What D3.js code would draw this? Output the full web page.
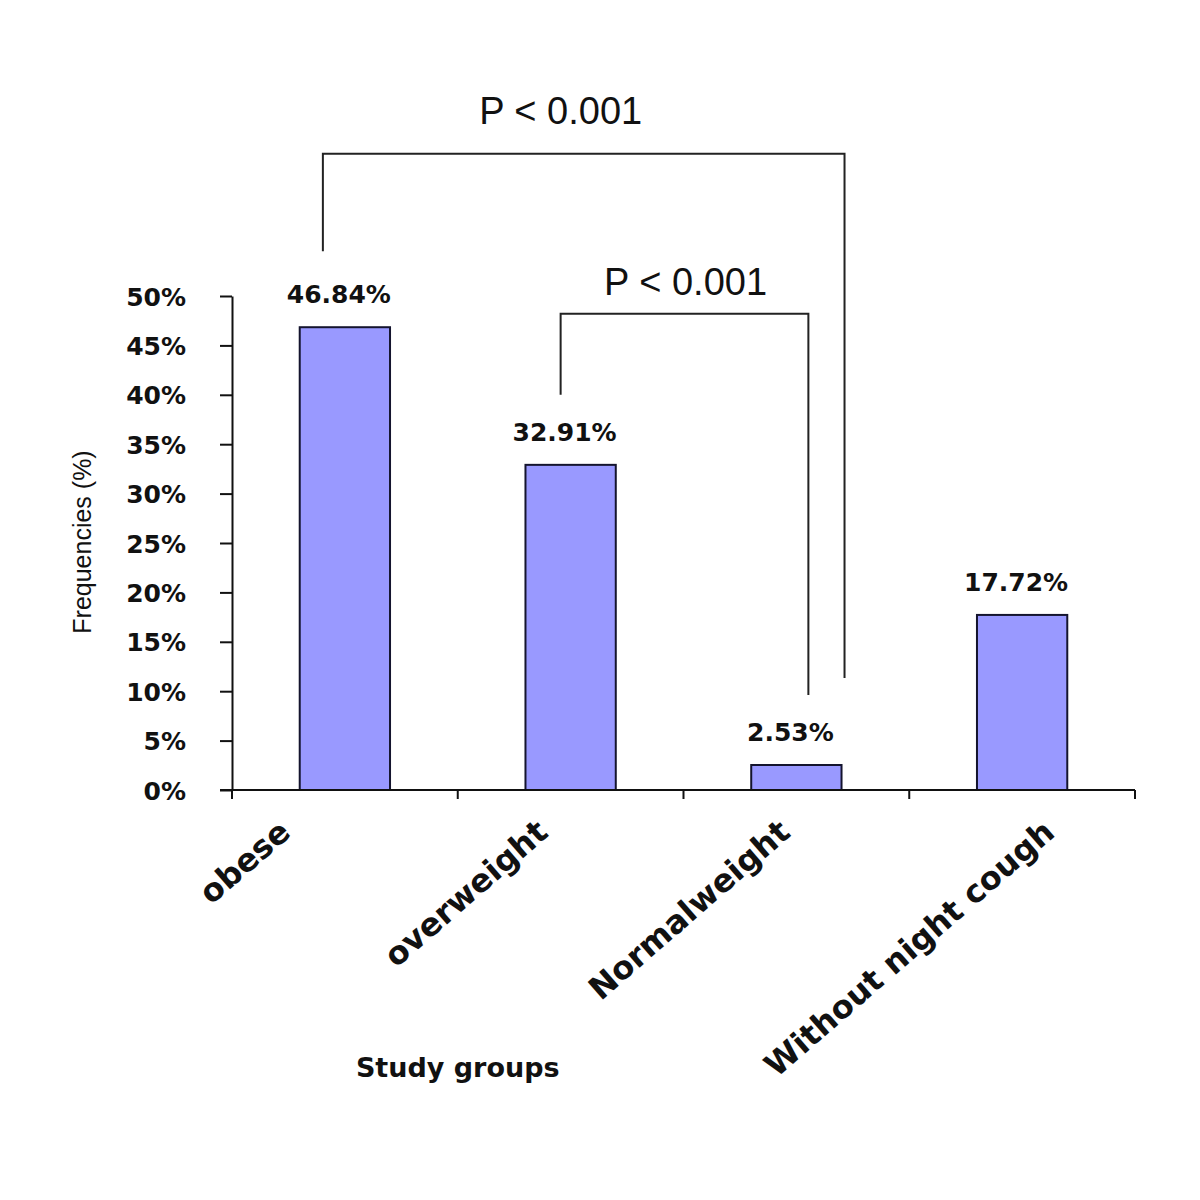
<!DOCTYPE html>
<html>
<head>
<meta charset="utf-8">
<script src="https://cdn.jsdelivr.net/npm/d3@7"></script>
<style>
  body { margin: 0; background: #fff; }
  svg { display: block; }
  .bold-text { font-family: "DejaVu Sans", sans-serif; font-weight: bold; fill: #111; }
  .plain-text { font-family: "Liberation Sans", Arial, sans-serif; fill: #111; }
</style>
</head>
<body>
<div id="chart"></div>
<script>
const categories = ["obese", "overweight", "Normalweight", "Without night cough"];
const frequencies = [46.84, 32.91, 2.53, 17.72];
const yTicks = [0, 5, 10, 15, 20, 25, 30, 35, 40, 45, 50];
const comparisons = [
  { from: "obese", to: "Normalweight", label: "P < 0.001", level: 64.4 },
  { from: "overweight", to: "Normalweight", label: "P < 0.001", level: 48.2 },
];

function renderChart() {
  const width = 1200;
  const height = 1200;
  const margin = { top: 296, right: 65, bottom: 410, left: 232 };
  const svg = d3.select("#chart").append("svg").attr("width", width).attr("height", height);

  const x = d3
    .scaleBand()
    .domain(categories)
    .range([margin.left, width - margin.right])
    .paddingInner(0.6)
    .paddingOuter(0.3);

  const y = d3
    .scaleLinear()
    .domain([0, 50])
    .range([height - margin.bottom, margin.top]);

  const step = x.step();
  const base = y(0);

  // bars
  svg
    .append("g")
    .selectAll("rect")
    .data(categories)
    .join("rect")
    .attr("x", (d) => x(d))
    .attr("y", (d, i) => y(frequencies[i]))
    .attr("width", x.bandwidth())
    .attr("height", (d, i) => base - y(frequencies[i]))
    .attr("fill", "#9999ff")
    .attr("stroke", "#14142e")
    .attr("stroke-width", 2);

  // y axis
  svg
    .append("g")
    .attr("transform", `translate(${margin.left}, 0)`)
    .call(d3.axisLeft(y).tickValues(yTicks).tickSize(12).tickSizeOuter(0).tickPadding(34).tickFormat((d) => `${d}%`))
    .call((g) => g.selectAll("line, path").attr("stroke", "#111").attr("stroke-width", 2))
    .call((g) =>
      g
        .selectAll("text")
        .attr("class", "bold-text")
        .attr("font-size", 25)
        .attr("dy", "0.36em")
    );

  // x axis with ticks at category boundaries
  const xAxis = svg.append("g");
  xAxis
    .append("line")
    .attr("x1", margin.left - 12)
    .attr("x2", width - margin.right)
    .attr("y1", base)
    .attr("y2", base)
    .attr("stroke", "#111")
    .attr("stroke-width", 2);
  xAxis
    .selectAll(".bound")
    .data(d3.range(categories.length + 1))
    .join("line")
    .attr("x1", (i) => margin.left + i * step)
    .attr("x2", (i) => margin.left + i * step)
    .attr("y1", base)
    .attr("y2", base + 9)
    .attr("stroke", "#111")
    .attr("stroke-width", 2);

  // rotated category labels (longer labels sit further right, like Excel does)
  const catLabels = svg
    .append("g")
    .selectAll("text")
    .data(categories)
    .join("text")
    .attr("class", "bold-text")
    .attr("font-size", 32)
    .attr("text-anchor", "end")
    .text((d) => d);
  catLabels.each(function (d) {
    const len = this.getComputedTextLength();
    const cx = x(d) + x.bandwidth() / 2 - 88 + 0.33 * len;
    d3.select(this).attr("transform", `translate(${cx}, ${base + 45}) rotate(-41)`);
  });

  // value labels
  svg
    .append("g")
    .selectAll("text")
    .data(categories)
    .join("text")
    .attr("class", "bold-text")
    .attr("font-size", 25)
    .attr("text-anchor", "middle")
    .attr("x", (d) => x(d) + x.bandwidth() / 2 - 6)
    .attr("y", (d, i) => y(frequencies[i]) - 24)
    .text((d, i) => `${frequencies[i].toFixed(2)}%`);

  // significance brackets
  const legTop = [
    { left: 76, right: 87, dxLeft: -22, dxRight: x.bandwidth() / 2 + 3, textDx: -23 },
    { left: 70, right: 70, dxLeft: -10, dxRight: 12, textDx: 1 },
  ];
  comparisons.forEach((c, k) => {
    const i1 = categories.indexOf(c.from);
    const i2 = categories.indexOf(c.to);
    const x1 = x(c.from) + x.bandwidth() / 2 + legTop[k].dxLeft;
    const x2 = x(c.to) + x.bandwidth() / 2 + legTop[k].dxRight;
    const yTop = y(c.level);
    const y1 = y(frequencies[i1]) - legTop[k].left;
    const y2 = y(frequencies[i2]) - legTop[k].right;
    svg
      .append("path")
      .attr("d", d3.line()([[x1, y1], [x1, yTop], [x2, yTop], [x2, y2]]))
      .attr("fill", "none")
      .attr("stroke", "#222")
      .attr("stroke-width", 2);
    svg
      .append("text")
      .attr("class", "plain-text")
      .attr("font-size", 38)
      .attr("text-anchor", "middle")
      .attr("x", (x1 + x2) / 2 + legTop[k].textDx)
      .attr("y", yTop - (k === 0 ? 30 : 19))
      .text(c.label);
  });

  // axis titles
  svg
    .append("text")
    .attr("class", "plain-text")
    .attr("font-size", 25)
    .attr("text-anchor", "middle")
    .attr("transform", `translate(91, 542) rotate(-90)`)
    .text("Frequencies (%)");

  svg
    .append("text")
    .attr("class", "bold-text")
    .attr("font-size", 27)
    .attr("text-anchor", "middle")
    .attr("x", margin.left + step)
    .attr("y", 1077)
    .text("Study groups");
}

renderChart();
</script>
</body>
</html>
